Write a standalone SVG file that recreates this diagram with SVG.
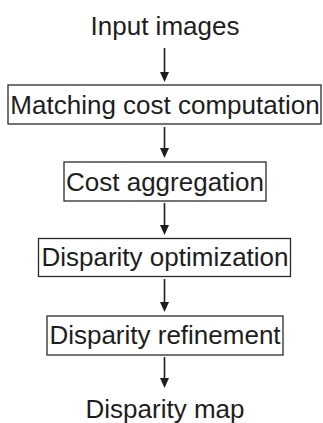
<svg xmlns="http://www.w3.org/2000/svg" width="323" height="423" viewBox="0 0 323 423">
<style>
text{font-family:"Liberation Sans",Arial,sans-serif;font-size:26px;fill:#1e1e1e;text-anchor:middle}
.box{fill:#fff;stroke:#2a2a2a;stroke-width:1.3}
.conn{stroke:#1e1e1e;stroke-width:1.6;fill:none}
.head{fill:#1e1e1e}
</style>
<defs>
<marker id="ah" markerWidth="6" markerHeight="6" refX="5.6" refY="3" orient="auto" markerUnits="userSpaceOnUse" viewBox="0 0 6 6"><path d="M0,0 L6,3 L0,6 z" class="head"/></marker>
</defs>
<rect width="323" height="423" fill="#fff"/>
<g id="input"><text x="165" y="35">Input images</text></g>
<g id="n1"><rect class="box" x="8" y="85" width="313" height="39"/><text x="165" y="114">Matching cost computation</text></g>
<g id="n2"><rect class="box" x="64" y="162" width="202" height="39"/><text x="165" y="191">Cost aggregation</text></g>
<g id="n3"><rect class="box" x="38.5" y="238.5" width="252" height="38"/><text x="165" y="266">Disparity optimization</text></g>
<g id="n4"><rect class="box" x="47" y="316" width="236" height="39"/><text x="165" y="344">Disparity refinement</text></g>
<g id="output"><text x="165" y="418">Disparity map</text></g>
<g id="connectors">
<line class="conn" x1="164.5" y1="48" x2="164.5" y2="74"/><path class="head" d="M160,72 L169,72 L164.5,82 z"/>
<line class="conn" x1="164.5" y1="127" x2="164.5" y2="150"/><path class="head" d="M160,148 L169,148 L164.5,158 z"/>
<line class="conn" x1="164.5" y1="203" x2="164.5" y2="227"/><path class="head" d="M160,225 L169,225 L164.5,235 z"/>
<line class="conn" x1="164.5" y1="279" x2="164.5" y2="304"/><path class="head" d="M160,302 L169,302 L164.5,312 z"/>
<line class="conn" x1="164.5" y1="357" x2="164.5" y2="380"/><path class="head" d="M160,378 L169,378 L164.5,388 z"/>
</g>
</svg>
